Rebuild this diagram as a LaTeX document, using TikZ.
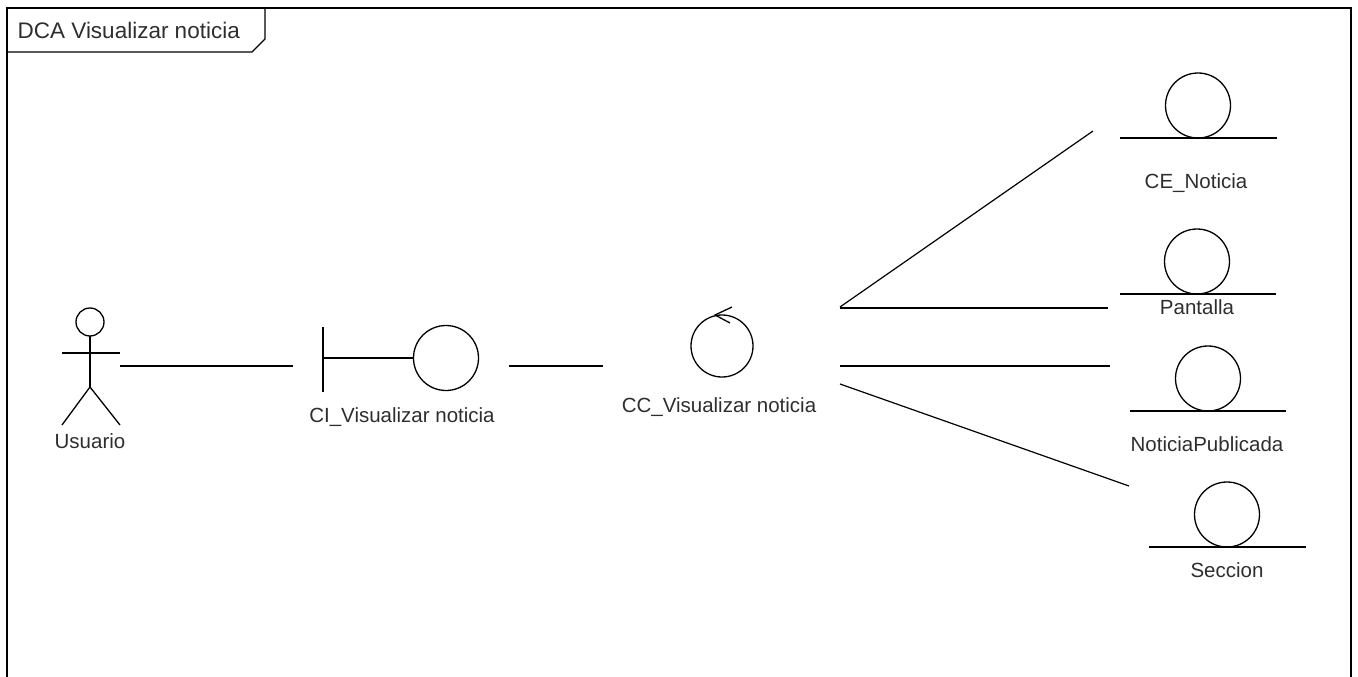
\documentclass[tikz,border=0pt]{standalone}
\usepackage{fontspec}
\setmainfont{Liberation Sans}
\begin{document}
\begin{tikzpicture}[x=1pt,y=-1pt,line width=1.3pt,
  lbl/.style={font=\fontsize{20.5}{24}\selectfont,text=black!82,inner sep=0pt,anchor=base},
  ball/.style={draw,circle,minimum size=65pt,inner sep=0pt},
  conn/.style={draw,line width=1.2pt}]
\useasboundingbox (0,0) rectangle (1358,677);

% diagram frame with its name tab
\draw (7,690) -- (7,8) -- (1351,8) -- (1351,690);
\draw (7,52) -- (252,52) -- (265,39) -- (265,8);
\node[lbl,anchor=base west,font=\fontsize{22.5}{26}\selectfont] (title) at (17,39) {DCA Visualizar noticia};

% actor
\coordinate (usuario) at (90,322);
\draw (usuario) circle (14);
\draw (90,336) -- (90,387);
\draw (62,353) -- (120,353);
\draw (62,425) -- (90,387) -- (120,425);
\node[lbl] (usuarioLbl) at (90,448) {Usuario};

% boundary object
\node[ball] (ci) at (446,358) {};
\draw (323,327) -- (323,392);
\draw (323,358) -- (ci.west);
\node[lbl] (ciLbl) at (402,422) {CI\_Visualizar noticia};

% control object
\node[ball,minimum size=62pt] (cc) at (722,346) {};
\draw (732,307) -- (715,315) -- (730,323);
\node[lbl] (ccLbl) at (719,412) {CC\_Visualizar noticia};

% entity objects
\node[ball] (ce) at (1198,105.5) {};
\draw (1120,138) -- (1277,138);
\node[lbl] (ceLbl) at (1196,188) {CE\_Noticia};

\node[ball] (pan) at (1197,261.5) {};
\draw (1120,294) -- (1276,294);
\node[lbl] (panLbl) at (1197,314) {Pantalla};

\node[ball] (np) at (1208,378.5) {};
\draw (1130,411) -- (1286,411);
\node[lbl] (npLbl) at (1207,451) {NoticiaPublicada};

\node[ball] (sec) at (1227,514.5) {};
\draw (1149,547) -- (1306,547);
\node[lbl] (secLbl) at (1227,577) {Seccion};

% connector ends
\coordinate (uR) at (120,366);
\coordinate (ciL) at (293,366);
\coordinate (ciR) at (509,366);
\coordinate (ccL) at (603,366);
\coordinate (ccA) at (840,307);
\coordinate (ccB) at (840,308);
\coordinate (ccC) at (840,366);
\coordinate (ccD) at (840,384);
\coordinate (ceL) at (1093,131);
\coordinate (panL) at (1108,308);
\coordinate (npL) at (1110,366);
\coordinate (secL) at (1129,486);

% links
\draw[conn] (uR) -- (ciL);
\draw[conn] (ciR) -- (ccL);
\draw[conn] (ccA) -- (ceL);
\draw[conn] (ccB) -- (panL);
\draw[conn] (ccC) -- (npL);
\draw[conn] (ccD) -- (secL);
\end{tikzpicture}
\end{document}
